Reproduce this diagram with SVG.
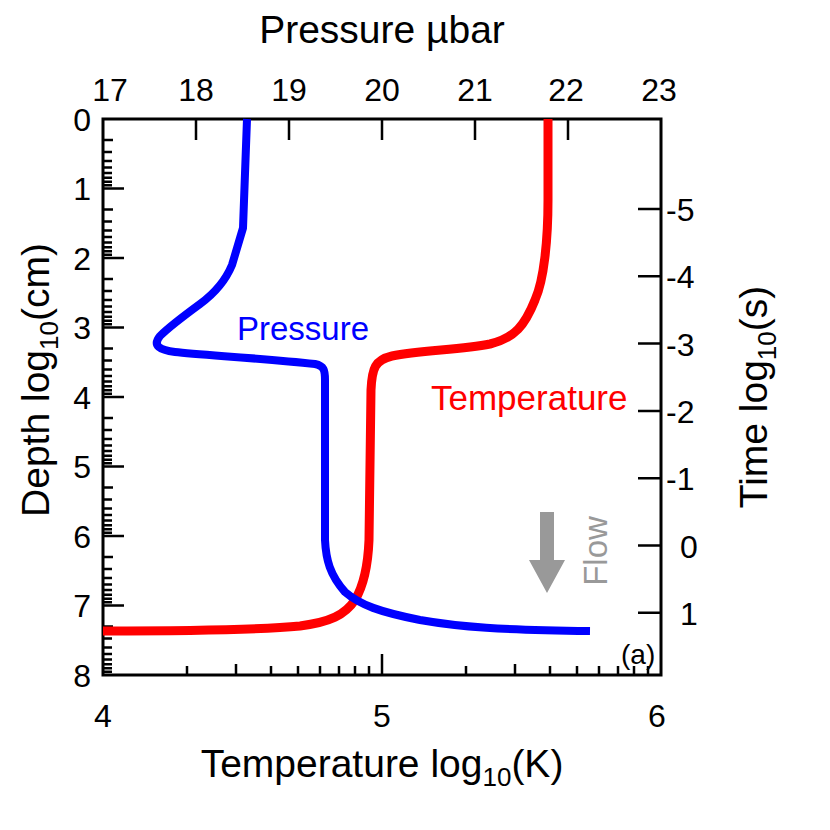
<svg xmlns="http://www.w3.org/2000/svg" width="830" height="830" viewBox="0 0 830 830">
<style>
text{font-family:"Liberation Sans",Arial,sans-serif;fill:#000}
.t{font-size:32px}
.ax{stroke:#000;stroke-width:3;fill:none}
.tk{stroke:#000;stroke-width:2.5}
</style>
<rect width="830" height="830" fill="#fff"/>
<g id="frame">
<rect x="103" y="119" width="558" height="556" class="ax"/>
<path class="tk" d="M196,119v21M289,119v21M382,119v21M475,119v21M568,119v21"/>
<path class="tk" d="M103,188.5h21M103,258h21M103,327.5h21M103,397h21M103,466.5h21M103,536h21M103,605.5h21"/>
<path class="tk" d="M382,675v-21"/>
<path class="tk" d="M661,209h-23M661,276.3h-23M661,343.6h-23M661,410.9h-23M661,478.2h-23M661,545.5h-23M661,612.8h-23"/>
<path class="tk" d="M103,140h10M103,152h9M103,161h9M103,167.5h9M103,173h9M103,177.7h9M103,181.7h9M103,185.3h9M103,209.5h10M103,221.5h9M103,230.5h9M103,237h9M103,242.5h9M103,247.2h9M103,251.2h9M103,254.8h9M103,279h10M103,291h9M103,300h9M103,306.5h9M103,312h9M103,316.7h9M103,320.7h9M103,324.3h9M103,348.5h10M103,360.5h9M103,369.5h9M103,376h9M103,381.5h9M103,386.2h9M103,390.2h9M103,393.8h9M103,418h10M103,430h9M103,439h9M103,445.5h9M103,451h9M103,455.7h9M103,459.7h9M103,463.3h9M103,487.5h10M103,499.5h9M103,508.5h9M103,515h9M103,520.5h9M103,525.2h9M103,529.2h9M103,532.8h9M103,557h10M103,569h9M103,578h9M103,584.5h9M103,590h9M103,594.7h9M103,598.7h9M103,602.3h9M103,626.5h10M103,638.5h9M103,647.5h9M103,654h9M103,659.5h9M103,664.2h9M103,668.2h9M103,671.8h9"/>
<path class="tk" d="M187,675v-9M236,675v-11M271,675v-9M298,675v-9M320,675v-9M339,675v-9M355,675v-9M369,675v-9M466,675v-9M515,675v-11M550,675v-9M577,675v-9M599,675v-9M618,675v-9M634,675v-9M648,675v-9"/>
</g>
<g id="ticklabels" class="t">
<text x="110" y="101" text-anchor="middle">17</text>
<text x="196" y="101" text-anchor="middle">18</text>
<text x="289" y="101" text-anchor="middle">19</text>
<text x="382" y="101" text-anchor="middle">20</text>
<text x="475" y="101" text-anchor="middle">21</text>
<text x="566" y="101" text-anchor="middle">22</text>
<text x="659" y="101" text-anchor="middle">23</text>
<g text-anchor="end">
<text x="91" y="131">0</text><text x="91" y="200">1</text><text x="91" y="270">2</text><text x="91" y="339">3</text><text x="91" y="409">4</text><text x="91" y="478">5</text><text x="91" y="548">6</text><text x="91" y="617">7</text><text x="91" y="687">8</text>
</g>
<text x="103" y="727" text-anchor="middle">4</text>
<text x="382" y="727" text-anchor="middle">5</text>
<text x="657" y="727" text-anchor="middle">6</text>
<g>
<text x="666" y="221">-5</text><text x="666" y="288">-4</text><text x="666" y="356">-3</text><text x="666" y="423">-2</text><text x="666" y="490">-1</text><text x="680" y="558">0</text><text x="680" y="625">1</text>
</g>
</g>
<g id="axislabels" style="font-size:39px">
<text x="382" y="43" text-anchor="middle">Pressure µbar</text>
<text x="382" y="777" text-anchor="middle">Temperature log<tspan font-size="26" dy="9">10</tspan><tspan dy="-9">(K)</tspan></text>
<text transform="translate(49,380) rotate(-90)" text-anchor="middle">Depth log<tspan font-size="26" dy="9">10</tspan><tspan dy="-9">(cm)</tspan></text>
<text transform="translate(767,397) rotate(-90)" text-anchor="middle">Time log<tspan font-size="26" dy="9">10</tspan><tspan dy="-9">(s)</tspan></text>
</g>
<g id="connectors" fill="none" stroke-linejoin="round">
<path id="temperature" stroke="#f00" stroke-width="9" d="M548,119 L548,200 C548,240 544,280 535,300 C525,325 515,338 490,344 C460,350 420,350 392,356 C375,360 372,368 371,390 L369,540 C368,565 364,585 355,600 C345,615 330,622 300,626 C260,630 200,631 103,631"/>
<path id="pressure" stroke="#00f" stroke-width="8" d="M247,119 L243,228 L232,265 C225,282 215,293 200,304 C185,315 170,326 160,336 C152,346 160,350 175,352 C200,355 260,358 315,364 C324,366 325,370 325,380 L325,540 C326,560 330,575 345,592 C360,605 380,612 420,620 C460,627 500,630 590,631"/>
</g>
<g id="labels" style="font-size:33px">
<text x="237" y="340" style="fill:#00f">Pressure</text>
<text x="431" y="410" style="fill:#f00;font-size:35px">Temperature</text>
<text x="621" y="664" style="font-size:28px">(a)</text>
</g>
<g id="flow">
<path fill="#999" d="M540,512h14v48h11l-18,33l-18,-33h11z"/>
<text transform="translate(607,551) rotate(-90)" text-anchor="middle" style="fill:#999;font-size:33px">Flow</text>
</g>
</svg>
